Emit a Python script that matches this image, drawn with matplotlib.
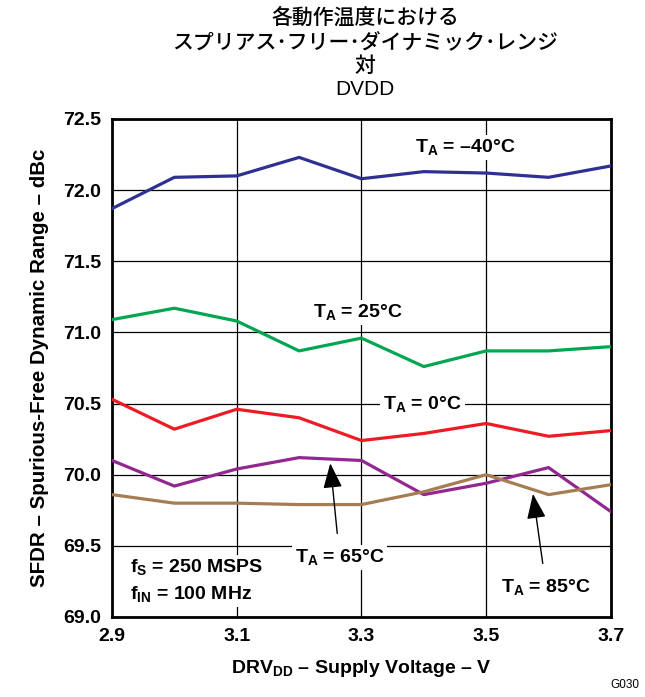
"""
SFDR vs DRVDD supply voltage at several operating temperatures.
"""
import matplotlib
matplotlib.use("Agg")
import matplotlib.pyplot as plt
import numpy as np

# Data
voltage = [2.9, 3.0, 3.1, 3.2, 3.3, 3.4, 3.5, 3.6, 3.7]
sfdr_m40 = [71.87, 72.09, 72.10, 72.23, 72.08, 72.13, 72.12, 72.09, 72.17]
sfdr_25 = [71.09, 71.17, 71.08, 70.87, 70.96, 70.76, 70.87, 70.87, 70.90]
sfdr_0 = [70.53, 70.32, 70.46, 70.40, 70.24, 70.29, 70.36, 70.27, 70.31]
sfdr_65 = [70.10, 69.92, 70.04, 70.12, 70.10, 69.86, 69.94, 70.05, 69.74]
sfdr_85 = [69.86, 69.80, 69.80, 69.79, 69.79, 69.88, 70.00, 69.86, 69.93]

xticks = [2.9, 3.1, 3.3, 3.5, 3.7]
yticks = [69.0, 69.5, 70.0, 70.5, 71.0, 71.5, 72.0, 72.5]

title_lines = ["各動作温度における",
               "スプリアス･フリー･ダイナミック･レンジ",
               "対"]
title_last = "DVDD"


def main():
    plt.rcParams['font.family'] = ['Liberation Sans', 'DejaVu Sans']
    plt.rcParams['mathtext.fontset'] = 'custom'
    plt.rcParams['mathtext.rm'] = 'Liberation Sans:bold'
    plt.rcParams['mathtext.it'] = 'Liberation Sans:bold'
    plt.rcParams['mathtext.bf'] = 'Liberation Sans:bold'

    fig = plt.figure(figsize=(6.45, 6.97), dpi=100)
    ax = fig.add_axes([0.1736, 0.1148, 0.7736, 0.7145])

    lw = 2.3
    ax.plot(voltage, sfdr_m40, color='#2E3192', lw=lw, zorder=3)
    ax.plot(voltage, sfdr_25, color='#00A651', lw=lw, zorder=3)
    ax.plot(voltage, sfdr_0, color='#ED1C24', lw=lw, zorder=3)
    ax.plot(voltage, sfdr_65, color='#92278F', lw=lw, zorder=3)
    ax.plot(voltage, sfdr_85, color='#A67C52', lw=lw, zorder=3)

    ax.set_xlim(2.9, 3.7)
    ax.set_ylim(69.0, 72.5)
    ax.set_xticks(xticks)
    ax.set_yticks(yticks)
    ax.set_xticklabels(["%.1f" % v for v in xticks], fontsize=14, fontweight='bold')
    ax.set_yticklabels(["%.1f" % v for v in yticks], fontsize=14, fontweight='bold')
    ax.tick_params(length=0, pad=8)
    ax.grid(True, color='black', lw=0.9, zorder=1)
    for s in ax.spines.values():
        s.set_linewidth(2.0)

    ax.set_xlabel(r"DRV$_{\mathrm{DD}}$ – Supply Voltage – V", fontsize=14,
                  fontweight='bold', labelpad=9)
    ax.set_ylabel("SFDR – Spurious-Free Dynamic Range – dBc", fontsize=14.8,
                  fontweight='bold', labelpad=10)

    box = dict(facecolor='white', edgecolor='none', pad=2)
    lab = dict(fontsize=14, fontweight='bold', ha='center', va='center', zorder=4)
    arrow = dict(arrowstyle='-|>,head_length=1.1,head_width=0.42',
                 color='black', lw=1.0, shrinkA=8, shrinkB=0)
    ax.text(3.467, 72.30, r"T$_{\mathrm{A}}$ = –40°C", bbox=box, **lab)
    ax.text(3.294, 71.14, r"T$_{\mathrm{A}}$ = 25°C", bbox=box, **lab)
    ax.text(3.398, 70.50, r"T$_{\mathrm{A}}$ = 0°C", bbox=box, **lab)
    ax.annotate(r"T$_{\mathrm{A}}$ = 65°C", xy=(3.250, 70.08), xytext=(3.265, 69.42),
                bbox=box, arrowprops=arrow, **lab)
    ax.annotate(r"T$_{\mathrm{A}}$ = 85°C", xy=(3.575, 69.865), xytext=(3.596, 69.21),
                bbox=box, arrowprops=arrow, **lab)
    ax.text(2.929, 69.255, "f$_{\\mathrm{S}}$ = 250 MSPS\nf$_{\\mathrm{IN}}$ = 100 MHz",
            fontsize=14, fontweight='bold', ha='left', va='center', linespacing=1.45,
            bbox=box, zorder=4)

    # title: three Japanese lines and a Latin last line
    cjk = ['Noto Sans CJK JP', 'DejaVu Sans']
    ys = [0.974, 0.940, 0.905]
    for line, y in zip(title_lines, ys):
        fig.text(0.566, y, line, ha='center', va='center', fontsize=15,
                 family=cjk, fontweight='medium')
    fig.text(0.566, 0.871, title_last, ha='center', va='center', fontsize=15)
    fig.text(0.992, 0.008, "G030", ha='right', va='bottom', fontsize=8.5)

    fig.savefig("out.png", dpi=100)
    return 0


if __name__ == "__main__":
    main()
